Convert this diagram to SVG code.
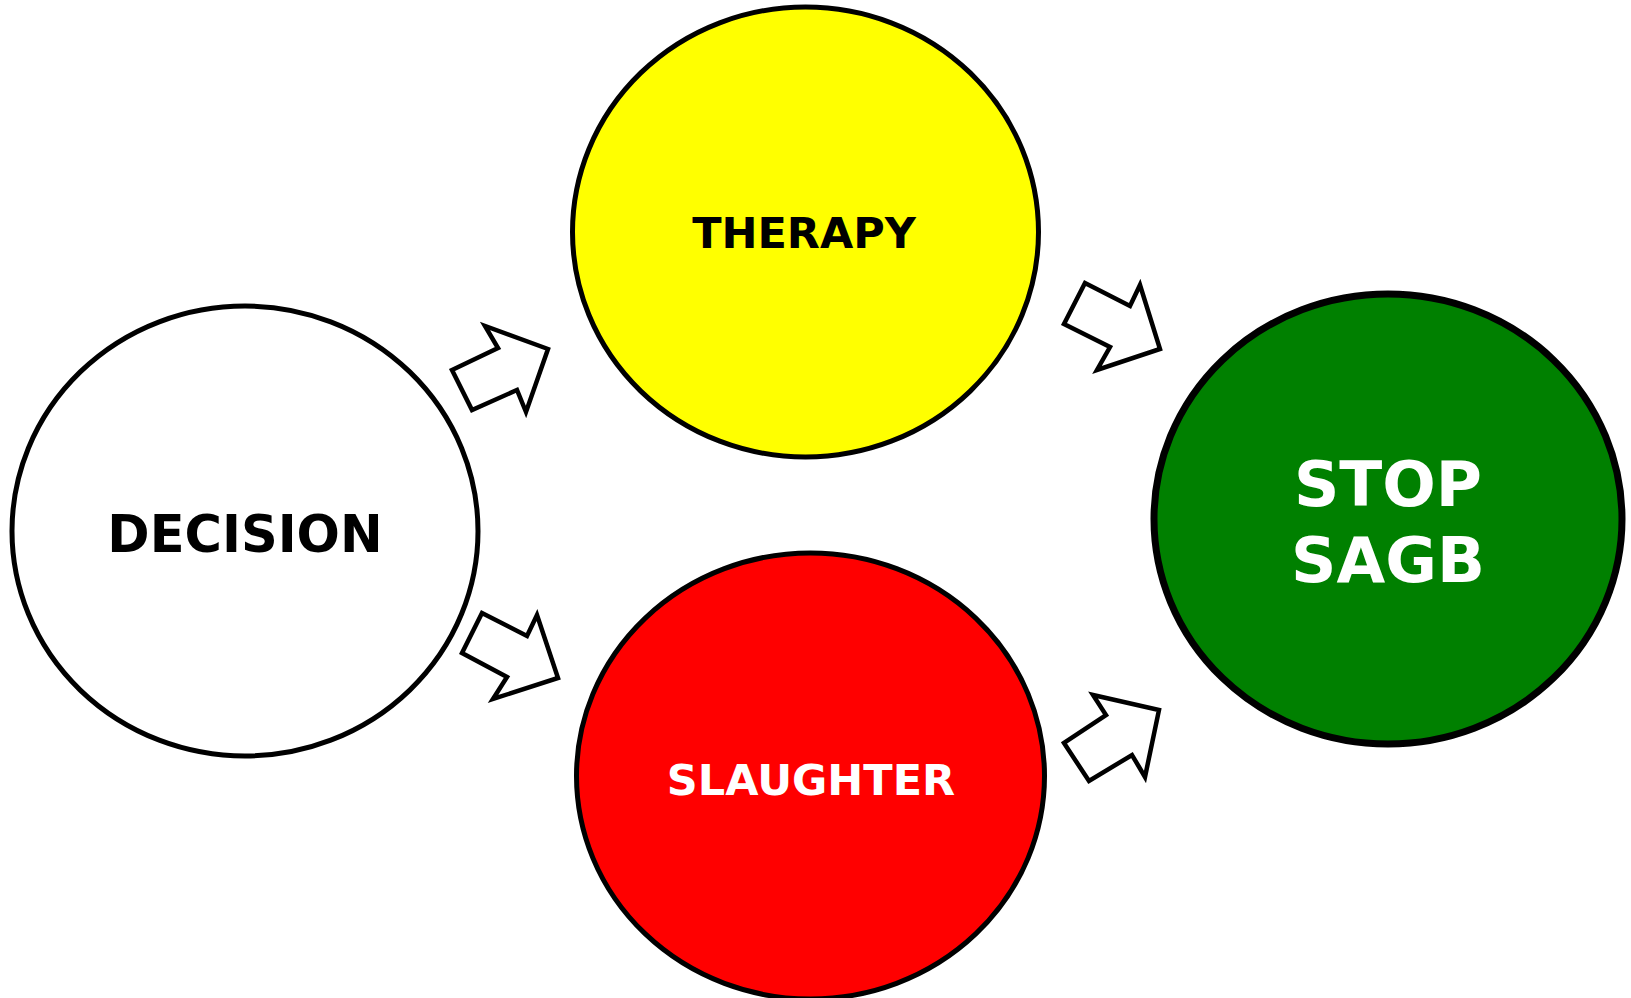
<svg xmlns="http://www.w3.org/2000/svg" width="1631" height="998" viewBox="0 0 1631 998">
<style>
.node{stroke:#000;stroke-width:5}
.lbl{font-family:"DejaVu Sans","Verdana",sans-serif;font-weight:bold;text-anchor:middle}
.arrow{fill:#fff;stroke:#000;stroke-width:4.5;stroke-linejoin:miter}
</style>
<rect width="1631" height="998" fill="#fff"/>
<g id="decision">
<ellipse class="node" cx="245" cy="531" rx="233" ry="225" fill="#fff"/>
<text class="lbl" x="245" y="552" font-size="51" fill="#000">DECISION</text>
</g>
<g id="therapy">
<ellipse class="node" cx="805.5" cy="232" rx="233" ry="225" fill="#ffff00"/>
<text class="lbl" x="804" y="248" font-size="43" fill="#000">THERAPY</text>
</g>
<g id="slaughter">
<ellipse class="node" cx="810.5" cy="776" rx="234" ry="223" fill="#ff0000"/>
<text class="lbl" x="811" y="795" font-size="43" fill="#fff">SLAUGHTER</text>
</g>
<g id="stop">
<ellipse cx="1388" cy="519" rx="234" ry="225" fill="#008000" stroke="#000" stroke-width="7"/>
<text class="lbl" x="1388" y="506" font-size="63" fill="#fff">STOP</text>
<text class="lbl" x="1388" y="582" font-size="63" fill="#fff">SAGB</text>
</g>
<g id="connectors">
<polygon class="arrow" points="452,370 472,410 517,390 526,412 548,349 485,326 498,348"/>
<polygon class="arrow" points="482,613 462,653 507,677 493,699 558,678 537,615 527,636"/>
<polygon class="arrow" points="1085,283 1064,324 1110,347 1097,370 1160,349 1140,285 1130,306"/>
<polygon class="arrow" points="1064,743 1089,781 1132,755 1145,777 1159,710 1093,695 1106,715"/>
</g>
</svg>
